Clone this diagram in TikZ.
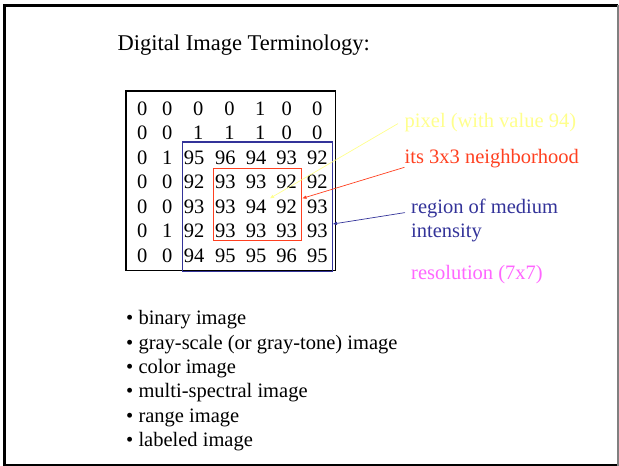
\documentclass[tikz,border=0pt]{standalone}
\usepackage{fontspec}
\setmainfont{Liberation Serif}
\usetikzlibrary{arrows.meta}

\definecolor{pixyellow}{RGB}{255,255,140}
\definecolor{nbred}{RGB}{255,64,32}
\definecolor{regblue}{RGB}{51,51,153}
\definecolor{respink}{RGB}{255,102,255}

\tikzset{
  body/.style={font=\fontsize{20.5}{24}\selectfont, inner sep=0pt},
  cell/.style={body, anchor=base},
  label/.style={body, anchor=base west},
  pointer/.style={line width=0.7pt, -{Triangle[length=4pt,width=3.2pt]}},
  framebox/.style={line width=1.1pt}
}

\begin{document}
\begin{tikzpicture}[x=1pt,y=-1pt]
\useasboundingbox (0,0) rectangle (619,466);

% slide frame
\draw[line width=2.7pt] (4.3,466) -- (4.3,5.3) -- (618,5.3);
\draw[line width=2pt] (4.3,465.2) -- (618,465.2);
\draw[gray, line width=1.4pt] (618,5.3) -- (618,466);

% title
\node[body, anchor=base west, font=\fontsize{22.5}{27}\selectfont] (title) at (117.5,50.5) {Digital Image Terminology:};

% pixel grid: single digits in columns 3-5 of the first two rows sit a little further right
\foreach \r/\yb/\vals in {1/115/{0,0,0,0,1,0,0}, 2/139.3/{0,0,1,1,1,0,0},
    3/164/{0,1,95,96,94,93,92}, 4/188.5/{0,0,92,93,93,92,92},
    5/213/{0,0,93,93,94,92,93}, 6/237.5/{0,1,92,93,93,93,93},
    7/262/{0,0,94,95,95,96,95}}{
  \foreach \v [count=\c] in \vals {
    \pgfmathsetmacro\cx{{142.3,167.3,194,225.3,256,286.7,317.3}[\c-1]+(\r<3)*(\c>2)*(\c<6)*4.3}
    \node[cell] (m\r\c) at (\cx,\yb) {\v};
  }
}

% image border, medium-intensity region, 3x3 neighbourhood
\draw[framebox] (126,91) rectangle (335.5,270.5);
\draw[framebox, regblue] (182.7,142) rectangle (332.5,271.5);
\draw[framebox, nbred] (213.7,168.3) rectangle (301.7,240.7);

% labels
\node[label, pixyellow] (pix) at (404.5,127) {pixel (with value 94)};
\node[label, nbred] (nb) at (404.5,163.5) {its 3x3 neighborhood};
\node[label, regblue] (reg) at (411,213.3) {region of medium};
\node[label, regblue] (regb) at (411,237.8) {intensity};
\node[label, respink] (res) at (411,279) {resolution (7x7)};

% pointer targets
\coordinate (pixtip) at (270,198.3);
\coordinate (nbtip) at (302.5,198.3);
\coordinate (regtip) at (333,224);

\draw[pointer, pixyellow] ([xshift=-6.5pt,yshift=-1.5pt]pix.west) -- (pixtip);
\draw[pointer, nbred] ([yshift=-3.8pt]nb.base west) -- (nbtip);
\draw[pointer, regblue] ([xshift=-6pt,yshift=-4.3pt]reg.west) -- (regtip);

% list of image types
\node[label] (b1) at (126,324.5) {\textbullet\ binary image};
\node[label] (b2) at (126,349) {\textbullet\ gray-scale (or gray-tone) image};
\node[label] (b3) at (126,373.3) {\textbullet\ color image};
\node[label] (b4) at (126,397.6) {\textbullet\ multi-spectral image};
\node[label] (b5) at (126,422) {\textbullet\ range image};
\node[label] (b6) at (126,446.3) {\textbullet\ labeled image};
\end{tikzpicture}
\end{document}
